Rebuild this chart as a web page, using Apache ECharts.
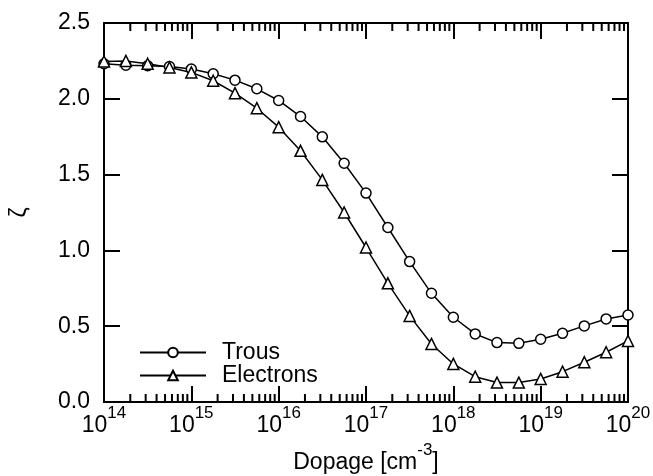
<!DOCTYPE html>
<html><head><meta charset="utf-8">
<script src="https://cdn.jsdelivr.net/npm/echarts@6/dist/echarts.min.js"></script>
<style>html,body{margin:0;padding:0;background:#fff}#c{width:653px;height:476px}</style>
</head><body><div id="c"></div>
<script>
// Doping levels (cm^-3), 4 points per decade
const dopage = [1e14, 1.78e14, 3.16e14, 5.62e14, 1e15, 1.78e15, 3.16e15, 5.62e15,
  1e16, 1.78e16, 3.16e16, 5.62e16, 1e17, 1.78e17, 3.16e17, 5.62e17,
  1e18, 1.78e18, 3.16e18, 5.62e18, 1e19, 1.78e19, 3.16e19, 5.62e19, 1e20];
const trous = [2.231, 2.222, 2.218, 2.213, 2.196, 2.165, 2.123, 2.066, 1.989, 1.883, 1.749, 1.575,
  1.378, 1.151, 0.926, 0.717, 0.559, 0.449, 0.392, 0.387, 0.414, 0.453, 0.502, 0.548, 0.574];
const electrons = [2.246, 2.25, 2.231, 2.207, 2.174, 2.119, 2.037, 1.938, 1.813, 1.657, 1.465, 1.25,
  1.019, 0.783, 0.568, 0.383, 0.251, 0.167, 0.128, 0.128, 0.152, 0.2, 0.262, 0.328, 0.403];
const xDecades = [14, 15, 16, 17, 18, 19, 20];
const minorMultipliers = [2, 3, 4, 5, 6, 7, 8, 9];
const seriesNames = ['Trous', 'Electrons'];

const minorTicks = [];
for (let i = 0; i < xDecades.length - 1; i++) {
  for (const m of minorMultipliers) minorTicks.push(m * Math.pow(10, xDecades[i]));
}

const FONT = '"Liberation Sans", Arial, sans-serif';
const BLACK = '#000';

function zip(xs, ys) { return xs.map((x, i) => [x, ys[i]]); }

const axisLineStyle = { show: true, onZero: false, lineStyle: { color: BLACK, width: 2 } };
const supRich = {
  b: { fontSize: 23, fontFamily: FONT, color: BLACK, lineHeight: 32, verticalAlign: 'bottom' },
  s: { fontSize: 17, fontFamily: FONT, color: BLACK, lineHeight: 17, verticalAlign: 'top' }
};

function xAx(pos, showLabel) {
  return {
    type: 'log', logBase: 10, min: 1e14, max: 1e20, splitNumber: 6, position: pos,
    axisLine: axisLineStyle,
    axisTick: { show: true, inside: true, length: 16, lineStyle: { color: BLACK, width: 2 } },
    splitLine: { show: false },
    minorTick: { show: false },
    axisLabel: {
      show: showLabel, margin: 3,
      formatter: v => '{b|10}{s|' + Math.round(Math.log10(v)) + '}',
      rich: supRich
    }
  };
}
function yAx(pos, showLabel) {
  return {
    type: 'value', min: 0, max: 2.5, interval: 0.5, position: pos,
    axisLine: axisLineStyle,
    axisTick: { show: true, inside: true, length: 16, lineStyle: { color: BLACK, width: 2 } },
    splitLine: { show: false },
    axisLabel: { show: showLabel, margin: 14, fontSize: 23, fontFamily: FONT, color: BLACK,
      formatter: v => v.toFixed(1) }
  };
}

const xBottom = xAx('bottom', true);
xBottom.name = '{b|Dopage [cm}{s|-3}{b|]}';
xBottom.nameLocation = 'middle';
xBottom.nameGap = 37;
xBottom.nameTextStyle = { rich: supRich };
const xTop = xAx('top', false);

const yLeft = yAx('left', true);
yLeft.name = 'ζ';
yLeft.nameLocation = 'middle';
yLeft.nameRotate = 90;
yLeft.nameGap = 73;
yLeft.nameTextStyle = { fontSize: 23, fontFamily: FONT, color: BLACK };
const yRight = yAx('right', false);

const lineCommon = {
  type: 'line', xAxisIndex: 0, yAxisIndex: 0, showAllSymbol: true, symbolSize: 10,
  lineStyle: { color: BLACK, width: 1.5 },
  itemStyle: { color: '#fff', borderColor: BLACK, borderWidth: 1.5 },
  emphasis: { disabled: true }
};

const option = {
  animation: false,
  backgroundColor: '#fff',
  grid: { left: 104, right: 25, top: 23, bottom: 74, containLabel: false, outerBoundsMode: 'none' },
  legend: {
    data: seriesNames, orient: 'vertical', left: 134, top: 336,
    itemWidth: 66, itemHeight: 12, itemGap: 0,
    textStyle: { fontSize: 23, fontFamily: FONT, color: BLACK, lineHeight: 23, padding: [0, 0, 0, 11] }
  },
  xAxis: [xBottom, xTop],
  yAxis: [yLeft, yRight],
  series: [
    Object.assign({}, lineCommon, { name: seriesNames[0], symbol: 'circle', data: zip(dopage, trous) }),
    Object.assign({}, lineCommon, { name: seriesNames[1], symbol: 'triangle', symbolSize: 11, data: zip(dopage, electrons) }),
    {
      type: 'custom', xAxisIndex: 0, yAxisIndex: 0, silent: true, clip: false,
      data: minorTicks.map(v => [v, 0]),
      renderItem: (params, api) => {
        const v = api.value(0);
        const b = api.coord([v, 0]);
        const t = api.coord([v, 2.5]);
        return {
          type: 'group', children: [
            { type: 'line', shape: { x1: b[0], y1: b[1], x2: b[0], y2: b[1] - 8 }, style: { stroke: BLACK, lineWidth: 2 } },
            { type: 'line', shape: { x1: t[0], y1: t[1], x2: t[0], y2: t[1] + 8 }, style: { stroke: BLACK, lineWidth: 2 } }
          ]
        };
      }
    }
  ]
};

const chart = echarts.init(document.getElementById('c'), null, { renderer: 'canvas' });
chart.setOption(option);
</script>
</body></html>
